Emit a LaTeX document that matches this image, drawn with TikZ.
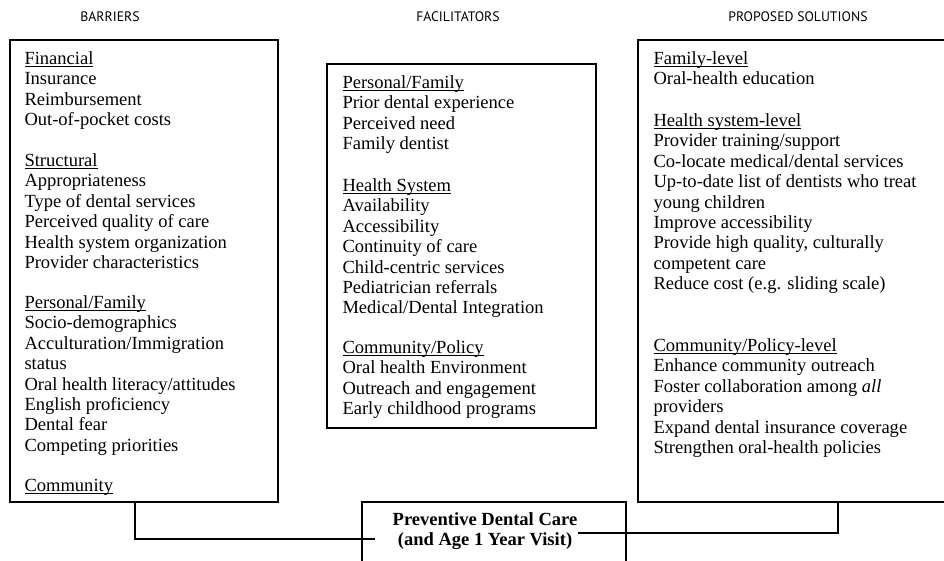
\documentclass[tikz,border=0pt]{standalone}
\usepackage{fontspec}
\setmainfont{Liberation Serif}
\newfontfamily\hdfont{PT Sans}
\usetikzlibrary{fit}

\newcommand{\sect}[1]{\rule{0pt}{11.25pt}\underline{\smash{#1}}}

\tikzset{every picture/.style={line width=0.75pt}}
\tikzset{
  box/.style={draw, line width=1pt, inner sep=0pt},
  list/.style={anchor=north west, align=left, inner sep=0pt, font=\fontsize{13.9}{15.3}\selectfont},
  colhead/.style={inner sep=0pt, text=black, font=\hdfont\fontsize{10.3}{12}\selectfont},
  link/.style={line width=1pt}
}

\begin{document}
\begin{tikzpicture}[x=0.75pt,y=0.75pt,yscale=-1,xscale=1]
\useasboundingbox (0,0) rectangle (944,560);
\clip (0,0) rectangle (944,560);

% Column heads
\node [colhead] (hbar) at (110,17) {BARRIERS};
\node [colhead] (hfac) at (458,17) {FACILITATORS};
\node [colhead] (hsol) at (798,17) {PROPOSED SOLUTIONS};

%Shape: Rectangle [barriers]
\node [box, fit={(10,40) (278,502)}] (barbox) {};
%Shape: Rectangle [facilitators]
\node [box, fit={(327,64) (596,428)}] (facbox) {};
%Shape: Rectangle [solutions]
\node [box, fit={(638,40) (952,502)}] (solbox) {};
%Shape: Rectangle [outcome]
\node [box, fit={(362,502) (626,570)}] (goalbox) {};

% Text Node (first baseline 15 below the top)
\node [list] (bfin) at (24,49) {\sect{Financial}\\Insurance\\Reimbursement\\Out-of-pocket costs};
% Text Node
\node [list] (bstr) at (24,151) {\sect{Structural}\\Appropriateness\\Type of dental services\\Perceived quality of care\\Health system organization\\Provider characteristics};
% Text Node
\node [list] (bper) at (24,293) {\sect{Personal/Family}\\Socio-demographics\\Acculturation/Immigration\\status\\Oral health literacy/attitudes\\English proficiency\\Dental fear\\Competing priorities};
% Text Node
\node [list] (bcom) at (24,476) {\sect{Community}};

% Text Node
\node [list] (fper) at (342,73) {\sect{Personal/Family}\\Prior dental experience\\Perceived need\\Family dentist};
% Text Node
\node [list] (fsys) at (342,176) {\sect{Health System}\\Availability\\Accessibility\\Continuity of care\\Child-centric services\\Pediatrician referrals\\Medical/Dental Integration};
% Text Node
\node [list] (fcom) at (342,338) {\sect{Community/Policy}\\Oral health Environment\\Outreach and engagement\\Early childhood programs};

% Text Node
\node [list] (sfam) at (653,49) {\sect{Family-level}\\Oral-health education};
% Text Node
\node [list] (ssys) at (653,111) {\sect{Health system-level}\\Provider training/support\\Co-locate medical/dental services\\Up-to-date list of dentists who treat\\young children\\Improve accessibility\\Provide high quality, culturally\\competent care\\Reduce cost (e.g. sliding scale)};
% Text Node
\node [list] (scom) at (653,336) {\sect{Community/Policy-level}\\Enhance community outreach\\Foster collaboration among \textit{all}\\providers\\Expand dental insurance coverage\\Strengthen oral-health policies};

% Text Node
\node [anchor=north, align=center, inner sep=0pt, font=\bfseries\fontsize{13.9}{15}\selectfont] (goal) at (485,510) {\rule{0pt}{11.25pt}Preventive Dental Care\\ (and Age 1 Year Visit)};

%Straight Lines [connectors]
\coordinate (lknee) at (135,539);
\coordinate (lend) at (375,539);
\draw [link] (barbox.south -| lknee) |- (lend);
\coordinate (rstart) at (578,533);
\coordinate (rknee) at (838,533);
\draw [link] (rstart) -| (solbox.south -| rknee);

\end{tikzpicture}
\end{document}
